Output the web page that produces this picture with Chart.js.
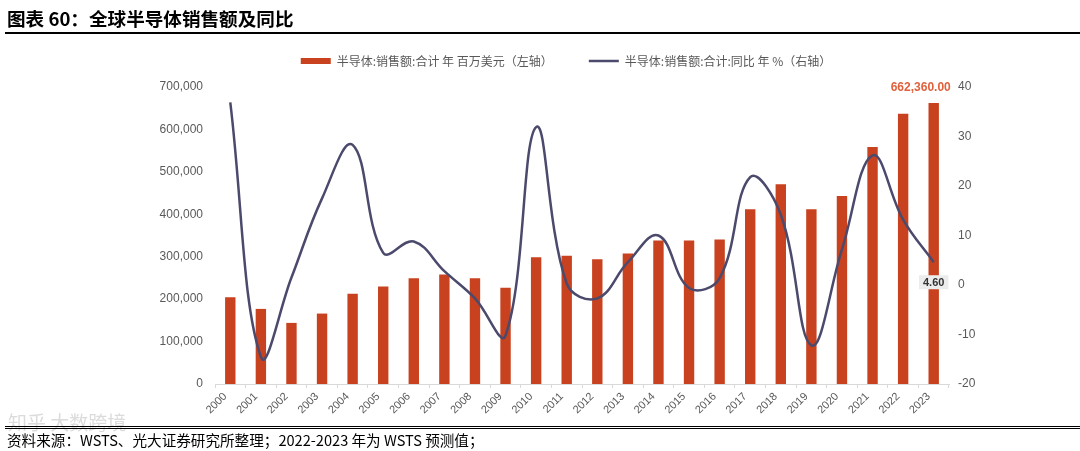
<!DOCTYPE html>
<html>
<head>
<meta charset="utf-8">
<script src="https://cdn.jsdelivr.net/npm/chart.js@4.4.0/dist/chart.umd.min.js"></script>
<style>
  html, body { margin: 0; padding: 0; background: #fff; }
  #wrap { position: relative; width: 1080px; height: 451px; overflow: hidden; }
  #canvas1 { position: absolute; left: 0; top: 0; }
  #title { position: absolute; left: 7px; top: 5px; font: bold 18.6px "Noto Sans CJK SC"; line-height: 26px; color: #000; }
  #tline { position: absolute; left: 5px; right: 0; top: 32px; height: 2px; background: #000; }
  #fline { position: absolute; left: 5px; right: 0; top: 426px; height: 1px; border-top: 1.5px solid #000; border-bottom: 1px solid #000; }
  #mark { position: absolute; left: 8px; top: 408px; font: 19px "Noto Sans CJK SC"; color: rgba(190,190,190,0.55); }
  #foot { position: absolute; left: 7px; top: 430px; font: 14.6px "Noto Sans CJK SC"; line-height: 20px; color: #000; }
</style>
</head>
<body>
<div id="wrap">
  <canvas id="canvas1" width="1080" height="451"></canvas>
  <div id="title">图表 60：全球半导体销售额及同比</div>
  <div id="tline"></div>
  <div id="mark">知乎 大数跨境</div>
  <div id="fline"></div>
  <div id="foot">资料来源：WSTS、光大证券研究所整理；2022-2023 年为 WSTS 预测值；</div>
</div>
<script>
// years on the x axis
let years = ['2000', '2001', '2002', '2003', '2004', '2005', '2006', '2007',
             '2008', '2009', '2010', '2011', '2012', '2013', '2014', '2015',
             '2016', '2017', '2018', '2019', '2020', '2021', '2022', '2023'];

// sales, million USD (left axis)
let sales = [204700, 177000, 144000, 166000, 213000, 230000, 249500, 258000,
             249500, 227000, 299000, 302000, 294000, 307500, 338000, 338000,
             340700, 412000, 470500, 412000, 443000, 558800, 637000, 662360];

// year-on-year growth, % (right axis)
let growth = [36.9, -14.5, 1.5, 17.5, 28.3, 6.5, 8.8, 2.8,
              -2.7, -10.2, 31.9, 0.3, -2.7, 4.6, 10.0, -0.6,
              1.4, 21.8, 14.2, -12.2, 7.2, 26.2, 13.2, 4.6];

// series names for the legend
let salesName  = '半导体:销售额:合计 年 百万美元（左轴）';
let growthName = '半导体:销售额:合计:同比 年 %（右轴）';

// axis ranges
let leftMin = 0, leftMax = 700000, leftStep = 100000;
let rightMin = -20, rightMax = 40, rightStep = 10;

let barColor  = '#C8421F';
let lineColor = '#4B4A6C';
let tickColor = '#595959';

Chart.defaults.font.family = '"Liberation Sans", Arial, sans-serif';

// fix the legend's height so the plot area starts where it should
let legendHeight = {
  id: 'legendHeight',
  beforeInit(chart) {
    let fit = chart.legend.fit;
    chart.legend.fit = function() {
      fit.call(this);
      this.height = 68;
    };
  }
};

// value labels on the last year
let endLabels = {
  id: 'endLabels',
  afterDatasetsDraw(chart) {
    let ctx = chart.ctx;
    let last = years.length - 1;
    let bar = chart.getDatasetMeta(0).data[last];
    let pt  = chart.getDatasetMeta(1).data[last];
    ctx.save();

    ctx.font = 'bold 12px "Liberation Sans"';
    ctx.fillStyle = '#E0603C';
    ctx.textAlign = 'center';
    ctx.textBaseline = 'bottom';
    let txt = sales[last].toLocaleString('en-US', { minimumFractionDigits: 2 });
    ctx.fillText(txt, bar.x - 13, bar.y - 9);

    let g = growth[last].toFixed(2);
    ctx.font = 'bold 11px "Liberation Sans"';
    let w = ctx.measureText(g).width + 8;
    ctx.fillStyle = '#ECECEC';
    ctx.fillRect(pt.x - w / 2, pt.y + 13, w, 14);
    ctx.fillStyle = '#333';
    ctx.textBaseline = 'middle';
    ctx.fillText(g, pt.x, pt.y + 20.5);

    ctx.restore();
  }
};

let options = {
  type: 'bar',
  data: {
    labels: years,
    datasets: [{
      type: 'bar',
      label: salesName,
      data: sales,
      yAxisID: 'y',
      backgroundColor: barColor,
      borderWidth: 0,
      categoryPercentage: 1,
      barPercentage: 0.34,
      pointStyle: 'rect',
      order: 1
    }, {
      type: 'line',
      label: growthName,
      data: growth,
      yAxisID: 'y1',
      borderColor: lineColor,
      backgroundColor: lineColor,
      borderWidth: 2.5,
      fill: false,
      tension: 0.4,
      pointRadius: 0,
      pointHoverRadius: 0,
      pointStyle: 'line',
      order: 0
    }]
  },
  options: {
    responsive: false,
    animation: false,
    layout: { padding: { top: 19, left: 52, right: 0, bottom: 0 } },
    plugins: {
      legend: {
        display: true,
        position: 'top',
        labels: {
          usePointStyle: true,
          pointStyleWidth: 30,
          boxHeight: 6,
          padding: 36,
          color: tickColor,
          font: { family: '"Noto Sans CJK SC"', size: 12 },
          sort: (a, b) => a.datasetIndex - b.datasetIndex
        }
      },
      tooltip: { enabled: false }
    },
    scales: {
      x: {
        offset: true,
        grid: { display: true, drawOnChartArea: false, drawTicks: true, tickLength: 4, color: '#D9D9D9' },
        border: { display: true, color: '#D9D9D9' },
        ticks: { autoSkip: false, minRotation: 45, maxRotation: 45, padding: 2, labelOffset: -5, color: tickColor, font: { size: 11 } },
        afterFit: (s) => { s.height = 67; }
      },
      y: {
        position: 'left',
        min: leftMin,
        max: leftMax,
        grid: { display: false, drawTicks: false },
        border: { display: false },
        ticks: {
          stepSize: leftStep,
          padding: 12,
          color: tickColor,
          font: { size: 12 },
          callback: (v) => v.toLocaleString('en-US')
        },
        afterFit: (s) => { s.width = 163; }
      },
      y1: {
        position: 'right',
        min: rightMin,
        max: rightMax,
        grid: { display: false, drawTicks: false },
        border: { display: false },
        ticks: { stepSize: rightStep, padding: 9, color: tickColor, font: { size: 12 } },
        afterFit: (s) => { s.width = 131; }
      }
    }
  },
  plugins: [legendHeight, endLabels]
};

let chart = new Chart(document.getElementById('canvas1'), options);
</script>
</body>
</html>
